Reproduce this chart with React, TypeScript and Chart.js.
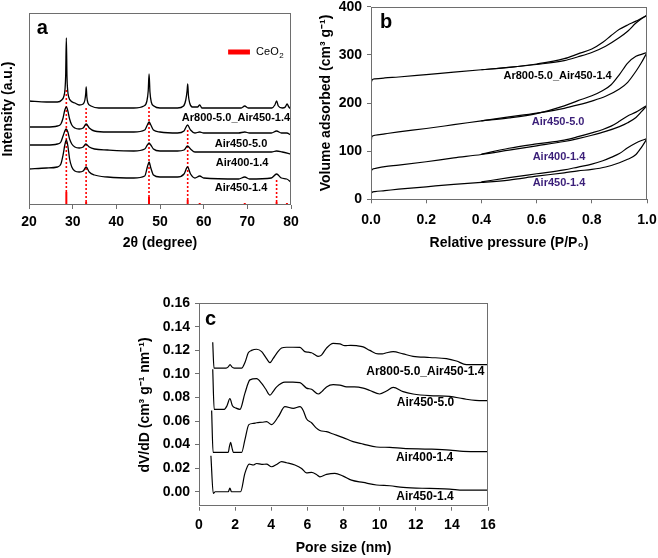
import React, { useEffect, useRef } from 'react';
import { Chart, registerables } from 'chart.js';

Chart.register(...registerables);

const FONT = "'Liberation Sans', Arial, Helvetica, sans-serif";
Chart.defaults.font.family = FONT;
Chart.defaults.color = '#000';

// ---------- Panel a: XRD ----------
const xrdNames = ['Ar800-5.0_Air450-1.4', 'Air450-5.0', 'Air400-1.4', 'Air450-1.4'];

const xrdTheta1 = [20, 24, 26.5, 27.5, 28.0, 28.25, 28.4, 28.55, 28.7, 28.85, 29.1, 29.6, 30.5, 31.5, 32.4, 32.8, 33.0, 33.1, 33.25, 33.5, 34.2, 36, 40, 44, 46.3, 47.0, 47.3, 47.5, 47.7, 48.0, 48.6, 50, 54, 55.4, 55.9, 56.2, 56.35, 56.5, 56.8, 57.4, 58.6, 59.1, 59.6, 62, 68.6, 69.4, 70.2, 75.6, 76.3, 76.7, 77.1, 78.0, 78.7, 79.1, 79.5, 80];
const xrdInt1 = [104, 103, 103, 105, 109, 116, 130, 167, 128, 115, 108, 104, 102, 100, 101, 105, 112, 118, 108, 102, 99, 97, 97, 97, 99, 104, 114, 131, 113, 103, 99, 97, 97, 99, 105, 114, 121, 110, 102, 98, 98, 100, 97, 97, 97, 99, 97, 97, 100, 104, 99, 97, 98, 101, 98, 96];

const xrdTheta2 = [20, 24, 26.5, 27.3, 27.8, 28.2, 28.55, 28.9, 29.3, 29.8, 30.5, 31.5, 32.4, 33.1, 33.8, 35, 38, 44, 46.5, 47.1, 47.5, 47.9, 48.5, 50, 54, 55.5, 56.3, 57.0, 58, 59.1, 60, 68, 69.4, 70.5, 75.5, 76.7, 77.8, 79, 80];
const xrdInt2 = [78, 78, 79, 81, 87, 95, 98, 94, 86, 80, 77, 76, 77, 81, 77, 74, 73, 73, 75, 80, 83, 80, 75, 73, 72, 74, 80, 75, 72, 73, 72, 72, 73, 72, 72, 74, 72, 72, 70];

const xrdTheta3 = [20, 24, 26.5, 27.3, 27.8, 28.2, 28.5, 28.9, 29.3, 29.8, 30.5, 31.5, 32.4, 33.0, 33.8, 35, 38, 44, 46.5, 47.1, 47.5, 47.9, 48.5, 50, 54, 55.5, 56.3, 57.0, 58, 62, 69.4, 75.5, 76.7, 78, 80];
const xrdInt3 = [60, 60, 61, 63, 69, 74, 76, 73, 66, 61, 58, 57, 58, 61, 58, 56, 55, 54, 56, 60, 62, 60, 56, 54, 54, 55, 59, 56, 53, 53, 53, 53, 54, 53, 51];

const xrdTheta4 = [20, 24, 26.5, 27.3, 27.8, 28.2, 28.55, 28.9, 29.3, 29.8, 30.5, 31.5, 32.4, 33.1, 33.8, 35, 38, 44, 46.5, 47.1, 47.5, 47.9, 48.5, 50, 54, 55.5, 56.3, 57.0, 58, 59.1, 60, 68, 69.4, 70.5, 75.5, 76.7, 77.8, 79, 80];
const xrdInt4 = [36, 37, 38, 41, 50, 60, 65, 59, 46, 38, 34, 33, 34, 38, 33, 30, 28, 27, 29, 38, 43, 37, 30, 28, 28, 31, 38, 31, 27, 29, 27, 26, 28, 26, 27, 31, 27, 26, 23];

const ceo2Pos = [28.55, 33.08, 47.48, 56.34, 59.09, 69.41, 76.7, 79.07];
const ceo2Bar = [13, 3, 8, 5, 2, 2, 3, 2];
const ceo2Guide = [115, 97, 100, 76, 0, 0, 25, 0];

// ---------- Panel b: isotherms ----------
const bNames = ['Ar800-5.0_Air450-1.4', 'Air450-5.0', 'Air400-1.4', 'Air450-1.4'];
const bAdsP = [0, 0.003, 0.014, 0.05, 0.1, 0.2, 0.3, 0.4, 0.5, 0.6, 0.7, 0.75, 0.8, 0.85, 0.9, 0.93, 0.96, 0.98, 1.0];
const bAdsAr800 = [237, 247, 250, 252, 254, 259, 264, 269, 274, 280, 288, 296, 305, 318, 336, 349, 366, 375, 382];
const bAdsAir450_50 = [109, 130, 133, 136, 140, 147, 155, 163, 171, 179, 189, 196, 204, 214, 229, 243, 266, 284, 305];
const bAdsAir400_14 = [54, 61, 64, 68, 71, 78, 86, 93, 102, 111, 120, 126, 133, 141, 151, 159, 170, 182, 195];
const bAdsAir450_14 = [9, 14, 16, 18, 21, 26, 31, 35, 40, 48, 55, 59, 62, 67, 76, 83, 93, 108, 126];

const bDesP = [0.4, 0.5, 0.6, 0.7, 0.75, 0.8, 0.84, 0.87, 0.9, 0.93, 0.96, 0.98, 1.0];
const bDesAr800 = [269, 274, 281, 292, 302, 312, 326, 340, 353, 362, 370, 376, 382];
const bDesAir450_50 = [163, 169, 178, 194, 205, 215, 226, 238, 259, 283, 297, 301, 305];
const bDesAir400_14 = [94, 106, 115, 123, 130, 138, 145, 152, 162, 173, 181, 188, 195];
const bDesAir450_14 = [36, 45, 53, 61, 67, 73, 80, 87, 95, 107, 117, 122, 126];

// ---------- Panel c: pore size distribution ----------
const cNames = ['Ar800-5.0_Air450-1.4', 'Air450-5.0', 'Air400-1.4', 'Air450-1.4'];
const cD1 = [0.76, 0.83, 1.5, 1.62, 1.72, 1.82, 1.95, 2.36, 2.55, 2.73, 2.91, 3.19, 3.47, 3.74, 3.93, 4.1, 4.3, 4.57, 4.85, 5.2, 5.59, 5.86, 6.05, 6.23, 6.4, 6.6, 6.78, 7.06, 7.43, 7.8, 8.07, 8.4, 8.72, 9.09, 9.46, 9.92, 10.15, 10.38, 10.75, 11.3, 11.85, 12.77, 13.7, 14.25, 14.8, 15.3, 16];
const cV1 = [0.127, 0.105, 0.105, 0.106, 0.108, 0.106, 0.105, 0.105, 0.110, 0.118, 0.120, 0.121, 0.119, 0.113, 0.1096, 0.113, 0.1175, 0.122, 0.1227, 0.1227, 0.1226, 0.119, 0.1185, 0.118, 0.1165, 0.115, 0.116, 0.122, 0.126, 0.1255, 0.124, 0.1243, 0.124, 0.123, 0.120, 0.117, 0.117, 0.118, 0.119, 0.117, 0.115, 0.114, 0.113, 0.111, 0.108, 0.108, 0.108];

const cD2 = [0.76, 0.84, 1.4, 1.55, 1.71, 1.85, 2.05, 2.27, 2.54, 2.82, 3.19, 3.47, 3.7, 3.93, 4.1, 4.3, 4.76, 5.2, 5.59, 5.95, 6.23, 6.6, 6.8, 7.06, 7.43, 7.8, 8.17, 8.6, 9.09, 9.46, 10.0, 10.38, 10.75, 11.3, 11.85, 12.77, 13.88, 14.62, 15.3, 16];
const cV2 = [0.104, 0.070, 0.070, 0.073, 0.079, 0.073, 0.071, 0.070, 0.0835, 0.095, 0.096, 0.092, 0.087, 0.082, 0.085, 0.089, 0.093, 0.093, 0.0926, 0.088, 0.087, 0.083, 0.085, 0.089, 0.091, 0.0906, 0.089, 0.089, 0.088, 0.086, 0.083, 0.0855, 0.0886, 0.085, 0.083, 0.0816, 0.081, 0.079, 0.0775, 0.0773];

const cD3 = [0.70, 0.78, 1.62, 1.68, 1.75, 1.83, 1.9, 2.36, 2.54, 2.76, 3.0, 3.19, 3.5, 3.74, 4.02, 4.39, 4.76, 5.22, 5.59, 5.77, 5.95, 6.23, 6.5, 6.69, 7.06, 7.43, 7.98, 8.53, 9.09, 9.83, 10.56, 11.3, 12.77, 13.88, 14.62, 16];
const cV3 = [0.069, 0.0334, 0.0334, 0.038, 0.042, 0.037, 0.0334, 0.0334, 0.044, 0.057, 0.058, 0.0586, 0.059, 0.0595, 0.057, 0.0637, 0.0722, 0.0708, 0.0722, 0.069, 0.062, 0.0586, 0.054, 0.052, 0.051, 0.049, 0.046, 0.0425, 0.0405, 0.038, 0.0377, 0.0368, 0.0362, 0.0354, 0.0343, 0.034];

const cD4 = [0.66, 0.79, 0.9, 1.62, 1.71, 1.8, 2.3, 2.54, 2.78, 3.0, 3.19, 3.47, 3.74, 4.02, 4.3, 4.57, 4.85, 5.31, 5.68, 5.95, 6.23, 6.5, 6.69, 7.06, 7.52, 7.98, 8.44, 9.09, 9.83, 10.56, 11.3, 12.77, 13.88, 14.62, 16];
const cV4 = [0.0306, -0.0014, 0.0, 0.0, 0.003, 0.0, 0.0, 0.0156, 0.0235, 0.0227, 0.024, 0.0232, 0.0235, 0.0212, 0.0232, 0.0255, 0.0246, 0.0227, 0.0198, 0.016, 0.0164, 0.0147, 0.0127, 0.0147, 0.0156, 0.0133, 0.0099, 0.0079, 0.0057, 0.0051, 0.0037, 0.0028, 0.0023, 0.0014, 0.0014];

const cYTicks = [0, 0.02, 0.04, 0.06, 0.08, 0.1, 0.12, 0.14, 0.16];

// ---------- helpers ----------
const AXIS_GRAY = '#6e6e6e';
const PURPLE = '#3a1e78';

function pts(xs: number[], ys: number[]) {
  return xs.map((x, i) => ({ x, y: ys[i] }));
}

function curve(xs: number[], ys: number[], width = 1.3) {
  return {
    data: pts(xs, ys),
    borderColor: '#000',
    borderWidth: width,
    pointRadius: 0,
    fill: false,
    cubicInterpolationMode: 'monotone' as const,
  };
}

const annotPlugin = {
  id: 'annot',
  afterDatasetsDraw(chart: any, _args: any, opts: any) {
    const { ctx, chartArea: ca, scales } = chart;
    const xs = scales.x;
    const ys = scales.y;
    ctx.save();
    ctx.strokeStyle = AXIS_GRAY;
    ctx.lineWidth = 1;
    ctx.strokeRect(Math.round(ca.left) + 0.5, Math.round(ca.top) + 0.5, Math.round(ca.right - ca.left) - 1, Math.round(ca.bottom - ca.top) - 1);
    for (const it of opts.items || []) {
      if (it.kind === 'bar') {
        const x1 = xs.getPixelForValue(it.x1);
        const x2 = xs.getPixelForValue(it.x2);
        const y = ys.getPixelForValue(it.y);
        ctx.fillStyle = it.color;
        ctx.fillRect(x1, y - 2.5, x2 - x1, 5);
        continue;
      }
      const px = xs.getPixelForValue(it.x);
      const py = ys.getPixelForValue(it.y);
      ctx.font = it.font;
      ctx.fillStyle = it.color || '#000';
      ctx.textAlign = it.align || 'center';
      ctx.textBaseline = 'middle';
      ctx.fillText(it.text, px, py);
      if (it.sub) {
        const w = ctx.measureText(it.text).width;
        ctx.font = it.subFont;
        ctx.textAlign = 'left';
        ctx.fillText(it.sub, px + w + 0.5, py + 4);
      }
    }
    ctx.restore();
  },
};

function xAxis(min: number, max: number, step: number, fmt: (v: number) => string, title: string, tickPad: number, titlePad: number, height: number) {
  return {
    type: 'linear',
    min,
    max,
    ticks: { stepSize: step, callback: (v: any) => fmt(Number(v)), font: { size: 14, weight: 'bold' }, color: '#000', padding: tickPad, maxRotation: 0, autoSkip: false },
    grid: { display: true, drawOnChartArea: false, drawTicks: true, tickLength: 4, color: AXIS_GRAY },
    border: { display: false },
    title: { display: true, text: title, font: { size: 14, weight: 'bold' }, color: '#000', padding: { top: 0, bottom: titlePad } },
    afterFit: (s: any) => {
      s.height = height;
      s.paddingLeft = 0;
      s.paddingRight = 0;
    },
  };
}

function yAxis(min: number, max: number, step: number, fmt: ((v: number) => string) | null, title: string, tickPad: number, titlePad: number, width: number, tickVals?: number[]) {
  return {
    type: 'linear',
    min,
    max,
    ticks: fmt
      ? { stepSize: step, callback: (v: any) => fmt(Number(v)), font: { size: 14, weight: 'bold' }, color: '#000', padding: tickPad, autoSkip: false }
      : { display: false },
    grid: fmt ? { display: true, drawOnChartArea: false, drawTicks: true, tickLength: 4, color: AXIS_GRAY } : { display: false },
    border: { display: false },
    title: { display: true, text: title, font: { size: 14, weight: 'bold' }, color: '#000', padding: { top: titlePad, bottom: 0 } },
    afterBuildTicks: tickVals
      ? (s: any) => {
          s.ticks = tickVals.map((v) => ({ value: v }));
        }
      : undefined,
    afterFit: (s: any) => {
      s.width = width;
      s.paddingTop = 0;
      s.paddingBottom = 0;
    },
  };
}

function makeA(): any {
  const datasets: any[] = [
    curve(xrdTheta1, xrdInt1),
    curve(xrdTheta2, xrdInt2),
    curve(xrdTheta3, xrdInt3),
    curve(xrdTheta4, xrdInt4),
  ];
  ceo2Pos.forEach((p, i) => {
    if (ceo2Guide[i] > 0) {
      datasets.push({
        data: [{ x: p, y: ceo2Bar[i] }, { x: p, y: ceo2Guide[i] }],
        borderColor: '#ff0000',
        borderWidth: 1.6,
        borderDash: [2, 2],
        pointRadius: 0,
        fill: false,
      });
    }
    datasets.push({
      data: [{ x: p, y: 0 }, { x: p, y: ceo2Bar[i] }],
      borderColor: '#ff0000',
      borderWidth: 2,
      pointRadius: 0,
      fill: false,
    });
  });
  return {
    type: 'line',
    data: { datasets },
    plugins: [annotPlugin],
    options: {
      animation: false,
      responsive: false,
      layout: { padding: { left: 0, top: 13, right: 39, bottom: 0 } },
      plugins: {
        legend: { display: false },
        tooltip: { enabled: false },
        annot: {
          items: [
            { text: 'a', x: 21.8, y: 177, font: `bold 20px ${FONT}`, align: 'left' },
            { text: xrdNames[0], x: 67.4, y: 87, font: `bold 11px ${FONT}` },
            { text: xrdNames[1], x: 68.55, y: 61, font: `bold 11px ${FONT}` },
            { text: xrdNames[2], x: 68.8, y: 42, font: `bold 11px ${FONT}` },
            { text: xrdNames[3], x: 68.55, y: 17, font: `bold 11px ${FONT}` },
            { kind: 'bar', x1: 65.6, x2: 70.6, y: 153, color: '#ff0000' },
            { text: 'CeO', sub: '2', x: 72.0, y: 153, font: `11px ${FONT}`, subFont: `8px ${FONT}`, align: 'left' },
          ],
        },
      },
      scales: {
        x: xAxis(20, 80, 10, (v) => String(v), '2θ (degree)', 4.6, 4.6, 51),
        y: yAxis(0, 192, 10, null, 'Intensity (a.u.)', 0, 0, 29),
      },
    },
  };
}

function makeB(): any {
  const datasets: any[] = [
    curve(bAdsP, bAdsAr800, 1.2),
    curve(bDesP, bDesAr800, 1.2),
    curve(bAdsP, bAdsAir450_50, 1.2),
    curve(bDesP, bDesAir450_50, 1.2),
    curve(bAdsP, bAdsAir400_14, 1.2),
    curve(bDesP, bDesAir400_14, 1.2),
    curve(bAdsP, bAdsAir450_14, 1.2),
    curve(bDesP, bDesAir450_14, 1.2),
  ];
  return {
    type: 'line',
    data: { datasets },
    plugins: [annotPlugin],
    options: {
      animation: false,
      responsive: false,
      layout: { padding: { left: 0, top: 6.7, right: 11, bottom: 0 } },
      plugins: {
        legend: { display: false },
        tooltip: { enabled: false },
        annot: {
          items: [
            { text: 'b', x: 0.033, y: 367, font: `bold 20px ${FONT}`, align: 'left' },
            { text: bNames[0], x: 0.676, y: 255.6, font: `bold 11px ${FONT}`, color: '#000' },
            { text: bNames[1], x: 0.678, y: 160, font: `bold 11px ${FONT}`, color: PURPLE },
            { text: bNames[2], x: 0.681, y: 87.5, font: `bold 11px ${FONT}`, color: PURPLE },
            { text: bNames[3], x: 0.681, y: 33.6, font: `bold 11px ${FONT}`, color: PURPLE },
          ],
        },
      },
      scales: {
        x: xAxis(0, 1, 0.2, (v) => v.toFixed(1), 'Relative pressure (P/P₀)', 8.3, 4.6, 56.7),
        y: yAxis(0, 400, 100, (v) => String(Math.round(v)), 'Volume adsorbed (cm³ g⁻¹)', 5, 17.6, 71),
      },
    },
  };
}

function makeC(): any {
  const datasets: any[] = [
    curve(cD1, cV1, 1.2),
    curve(cD2, cV2, 1.2),
    curve(cD3, cV3, 1.2),
    curve(cD4, cV4, 1.2),
  ];
  return {
    type: 'line',
    data: { datasets },
    plugins: [annotPlugin],
    options: {
      animation: false,
      responsive: false,
      layout: { padding: { left: 0, top: 13.3, right: 32, bottom: 0 } },
      plugins: {
        legend: { display: false },
        tooltip: { enabled: false },
        annot: {
          items: [
            { text: 'c', x: 0.33, y: 0.1459, font: `bold 20px ${FONT}`, align: 'left' },
            { text: cNames[0], x: 12.53, y: 0.1019, font: `bold 12px ${FONT}` },
            { text: cNames[1], x: 12.54, y: 0.0753, font: `bold 12px ${FONT}` },
            { text: cNames[2], x: 12.49, y: 0.0286, font: `bold 12px ${FONT}` },
            { text: cNames[3], x: 12.51, y: -0.0045, font: `bold 12px ${FONT}` },
          ],
        },
      },
      scales: {
        x: xAxis(0, 16, 2, (v) => String(v), 'Pore size (nm)', 5.9, 1.6, 51.3),
        y: yAxis(-0.0127, 0.16, 0.02, (v) => v.toFixed(2), 'dV/dD (cm³ g⁻¹ nm⁻¹)', 5, 16.6, 79, cYTicks),
      },
    },
  };
}

function Panel(props: { left: number; top: number; width: number; height: number; make: () => any }) {
  const ref = useRef<HTMLCanvasElement>(null);
  useEffect(() => {
    const chart = new Chart(ref.current as HTMLCanvasElement, props.make());
    return () => chart.destroy();
  }, []);
  return (
    <canvas
      ref={ref}
      width={props.width}
      height={props.height}
      style={{ position: 'absolute', left: props.left, top: props.top, width: props.width, height: props.height }}
    />
  );
}

export default function App() {
  return (
    <div style={{ position: 'fixed', left: 0, top: 0, width: 658, height: 558, background: '#fff', overflow: 'hidden' }}>
      <Panel left={0} top={0} width={330} height={256} make={makeA} />
      <Panel left={300} top={0} width={358} height={256} make={makeB} />
      <Panel left={120} top={290} width={400} height={268} make={makeC} />
    </div>
  );
}
